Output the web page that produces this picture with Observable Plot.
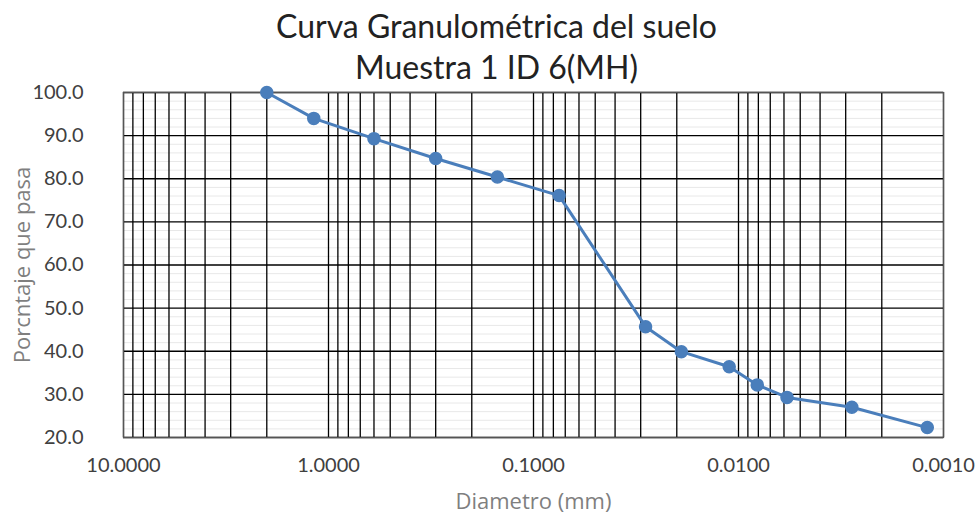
<!DOCTYPE html>
<html>
<head>
<meta charset="utf-8">
<script src="https://cdn.jsdelivr.net/npm/d3@7"></script>
<script src="https://cdn.jsdelivr.net/npm/@observablehq/plot@0.6"></script>
<style>
  html, body { margin: 0; padding: 0; background: #fff; }
  #chart svg { display: block; }
</style>
</head>
<body>
<div id="chart"></div>
<script>
// Data
const diametro = [2.0, 1.18, 0.6, 0.3, 0.15, 0.075, 0.0284, 0.0190, 0.0111, 0.0081, 0.0058, 0.0028, 0.0012];
const pasa     = [100.0, 94.0, 89.3, 84.7, 80.4, 76.1, 45.7, 39.9, 36.4, 32.2, 29.3, 27.0, 22.3];

const xTickLabels = [10, 1, 0.1, 0.01, 0.001];
const yTickLabels = [20, 30, 40, 50, 60, 70, 80, 90, 100];
const titleLines = ["Curva Granulométrica del suelo", "Muestra 1 ID 6(MH)"];
const xTitle = "Diametro (mm)";
const yTitle = "Porcntaje que pasa";

const rows = diametro.map((d, i) => ({d, p: pasa[i]}));

// log grid lines: 1..9 x each decade
const xGrid = [];
for (const dec of [0.001, 0.01, 0.1, 1]) for (let k = 1; k < 10; k++) xGrid.push(+(k * dec).toPrecision(3));
xGrid.push(10);
const yMinor = d3.range(22, 100, 2).filter(v => v % 10 !== 0);

const blue = "#4a7ebb";

const chart = Plot.plot({
  width: 979,
  height: 517,
  marginLeft: 123,
  marginRight: 36,
  marginTop: 92,
  marginBottom: 80,
  style: {fontFamily: "Lato, sans-serif", background: "#fff"},
  x: {type: "log", domain: [10, 0.001]},
  y: {domain: [20, 100]},
  marks: [
    Plot.ruleY(yMinor, {stroke: "#e8e8e8", strokeWidth: 1}),
    Plot.ruleX(xGrid, {stroke: "#000", strokeWidth: 1.3}),
    Plot.ruleY(yTickLabels, {stroke: "#000", strokeWidth: 1.3}),
    Plot.frame({stroke: "#555", strokeWidth: 1.3}),
    Plot.axisX(xTickLabels, {tickSize: 0, tickPadding: 20, tickFormat: d3.format(".4f"), fontSize: 20, fill: "#404040", label: null}),
    Plot.axisY(yTickLabels, {tickSize: 0, tickPadding: 40, tickFormat: d3.format(".1f"), fontSize: 20, fill: "#404040", label: null}),
    Plot.line(rows, {x: "d", y: "p", stroke: blue, strokeWidth: 3}),
    Plot.dot(rows, {x: "d", y: "p", r: 6, fill: blue, stroke: blue}),
    Plot.text([titleLines[0]], {frameAnchor: "top", dx: -37, dy: -65, fontSize: 32, fill: "#222", lineAnchor: "middle"}),
    Plot.text([titleLines[1]], {frameAnchor: "top", dx: -37, dy: -24, fontSize: 32, fill: "#222", lineAnchor: "middle"}),
    Plot.text([xTitle], {frameAnchor: "bottom", dy: 64, fontSize: 22, fill: "#7f7f7f", fontFamily: "'Open Sans', sans-serif", lineAnchor: "middle"}),
    Plot.text([yTitle], {frameAnchor: "left", dx: -101, rotate: -90, fontSize: 22, fill: "#7f7f7f", fontFamily: "'Open Sans', sans-serif", lineAnchor: "middle", textAnchor: "middle"})
  ]
});
document.getElementById("chart").append(chart);
</script>
</body>
</html>
